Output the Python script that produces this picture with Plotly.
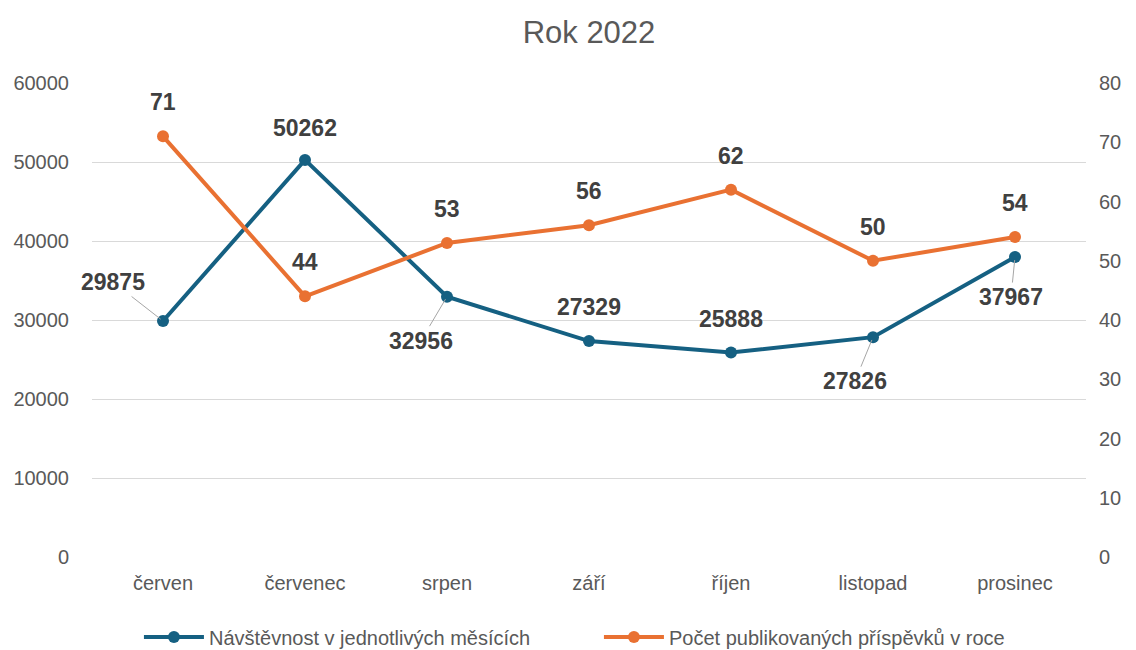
import plotly.graph_objects as go

months = ["červen", "červenec", "srpen", "září", "říjen", "listopad", "prosinec"]
visits = [29875, 50262, 32956, 27329, 25888, 27826, 37967]
posts = [71, 44, 53, 56, 62, 50, 54]
name_visits = "Návštěvnost v jednotlivých měsících"
name_posts = "Počet publikovaných příspěvků v roce"
left_ticks = [0, 10000, 20000, 30000, 40000, 50000, 60000]
right_ticks = [0, 10, 20, 30, 40, 50, 60, 70, 80]

# label offsets (pixels) for the visits labels: (ax, ay, arrow)
visit_offsets = [(-50, -39, True), (0, -32, False), (-26, 44, True), (0, -34, False),
                 (0, -33, False), (-18, 44, True), (-4, 40, True)]

BLUE = "#156082"
ORANGE = "#E97132"
FONT = "Liberation Sans"
LBL = dict(family=FONT, size=23, color="#404040")
TICK = dict(family=FONT, size=20, color="#595959")

fig = go.Figure()
fig.add_trace(go.Scatter(x=months, y=visits, name=name_visits, mode="lines+markers",
                         line=dict(color=BLUE, width=4), marker=dict(size=12, color=BLUE),
                         yaxis="y"))
fig.add_trace(go.Scatter(x=months, y=posts, name=name_posts, mode="lines+markers",
                         line=dict(color=ORANGE, width=4), marker=dict(size=12, color=ORANGE),
                         yaxis="y2"))

annos = []
for m, v, (ax, ay, arrow) in zip(months, visits, visit_offsets):
    if arrow:
        annos.append(dict(x=m, y=v, xref="x", yref="y", text=f"<b>{v}</b>",
                          showarrow=True, ax=ax, ay=ay, arrowhead=0, arrowwidth=1,
                          arrowcolor="#a6a6a6", standoff=3, font=LBL))
    else:
        annos.append(dict(x=m, y=v, xref="x", yref="y", text=f"<b>{v}</b>",
                          showarrow=False, yshift=-ay, font=LBL))
for m, p in zip(months, posts):
    annos.append(dict(x=m, y=p, xref="x", yref="y2", text=f"<b>{p}</b>",
                      showarrow=False, yshift=34, font=LBL))

fig.update_layout(
    width=1136, height=650,
    paper_bgcolor="white", plot_bgcolor="white",
    margin=dict(l=92, r=50, t=83, b=93, autoexpand=False),
    title=dict(text="Rok 2022", x=0.5, xanchor="center", xref="paper",
               y=0.95, yanchor="middle", yref="container",
               font=dict(family=FONT, size=31, color="#595959"), automargin=False),
    font=dict(family=FONT, size=20, color="#595959"),
    xaxis=dict(range=[-0.5, 6.5], showgrid=False, showline=False, ticks="", automargin=False,
               ticklabelstandoff=12, tickfont=TICK),
    yaxis=dict(range=[0, 60000], tickvals=left_ticks, ticktext=[str(t) for t in left_ticks],
               showgrid=True, gridcolor="#d9d9d9",
               gridwidth=1, zeroline=False, ticks="", ticklabelstandoff=22, automargin=False,
               tickfont=TICK),
    yaxis2=dict(range=[0, 80], tickvals=right_ticks, ticktext=[str(t) for t in right_ticks],
                overlaying="y", side="right", automargin=False,
                showgrid=False, zeroline=False, ticks="", ticklabelstandoff=12,
                tickfont=TICK),
    legend=dict(orientation="h", x=0.51, xanchor="center", y=-0.169, yanchor="middle",
                font=dict(family=FONT, size=20, color="#595959"), itemwidth=60,
                entrywidthmode="pixels", entrywidth=385),
    annotations=annos,
    showlegend=True,
)
fig.write_html("out.html", config={"displayModeBar": False},
               post_script="document.body.style.margin='0';")
